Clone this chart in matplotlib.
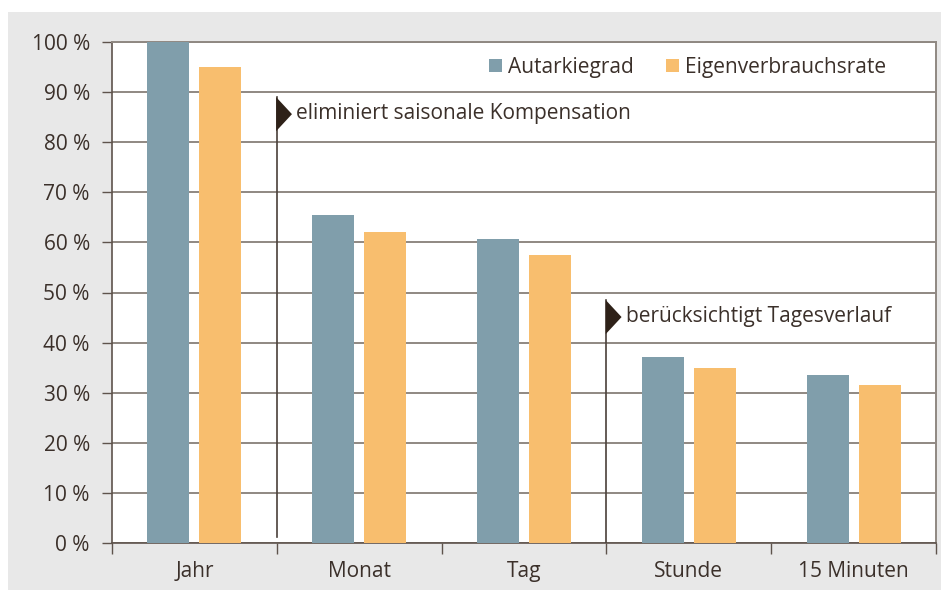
#!/usr/bin/env python3
"""Autarkiegrad und Eigenverbrauchsrate nach zeitlicher Aufloesung"""

import numpy as np
import matplotlib
matplotlib.use('Agg')
import matplotlib.pyplot as plt
from matplotlib.patches import Rectangle, Polygon

categories = ['Jahr', 'Monat', 'Tag', 'Stunde', '15 Minuten']
autarkiegrad = [100, 65.5, 60.7, 37.1, 33.5]
eigenverbrauch = [95, 62.1, 57.5, 34.9, 31.5]
series_names = ['Autarkiegrad', 'Eigenverbrauchsrate']
ytick_labels = [f'{v} %' for v in range(0, 101, 10)]
notes = ['eliminiert saisonale Kompensation', 'berücksichtigt Tagesverlauf']

BLUE = '#809eab'
ORANGE = '#f8be6e'
TEXT = '#3b302a'
AXIS = '#5e534c'
GRID = '#8f8882'

plt.rcParams['font.family'] = ['Open Sans', 'DejaVu Sans']

W, H = 941, 590
fig = plt.figure(figsize=(W / 100, H / 100), dpi=100, facecolor='white')
fig.patches.append(Rectangle((8 / W, 0), 1, (H - 12) / H, transform=fig.transFigure,
                             facecolor='#e8e8e8', edgecolor='none', zorder=-10))

ax = fig.add_axes([112 / W, (H - 543) / H, (936 - 112) / W, (543 - 42) / H])
ax.set_facecolor('white')

x = np.arange(len(categories))
width = 0.255
off = 0.158
ax.bar(x - off, autarkiegrad, width, color=BLUE, label=series_names[0], zorder=3)
ax.bar(x + off, eigenverbrauch, width, color=ORANGE, label=series_names[1], zorder=3)

ax.set_xlim(-0.5, len(categories) - 0.5)
ax.set_ylim(0, 100)
ax.set_yticks(range(0, 101, 10))
ax.set_yticklabels(ytick_labels)
ax.yaxis.grid(True, color=GRID, linewidth=1.4, zorder=0)
ax.set_axisbelow(True)

ax.set_xticks(x)
ax.set_xticklabels(categories)
ax.set_xticks(np.arange(-0.5, len(categories)), minor=True)
ax.tick_params(axis='x', which='major', length=0, pad=13, labelsize=15, labelcolor=TEXT)
ax.tick_params(axis='x', which='minor', length=8, width=1, color=AXIS)
ax.tick_params(axis='y', length=7, width=1, color=AXIS, pad=9, labelsize=15, labelcolor=TEXT)

for side in ['left', 'bottom']:
    ax.spines[side].set_color(AXIS)
    ax.spines[side].set_linewidth(1.2)
for side in ['top', 'right']:
    ax.spines[side].set_color(GRID)
    ax.spines[side].set_linewidth(1.4)

# markers with flag triangles
for xpos, ytop, ybot, note in [(0.5, 89.0, 1.2, notes[0]), (2.5, 48.5, 0, notes[1])]:
    ax.plot([xpos, xpos], [ybot, ytop], color='#4a403a', linewidth=1.2, zorder=4)
    flag = Polygon([(xpos - 0.004, ytop), (xpos + 0.092, ytop - 3.4),
                    (xpos - 0.004, ytop - 6.8)], closed=True,
                   facecolor='#2e2118', edgecolor='none', zorder=5)
    ax.add_patch(flag)
    ax.text(xpos + 0.118, ytop - 3.2, note, fontsize=15, color=TEXT,
            va='center', ha='left', zorder=5)

ax.legend(loc='upper right', bbox_to_anchor=(0.962, 1.008), ncol=2, frameon=False,
          fontsize=15, labelcolor=TEXT, handlelength=0.6, handleheight=0.6,
          handletextpad=0.3, columnspacing=1.55)

fig.savefig('out.png', dpi=100, facecolor=fig.get_facecolor())
